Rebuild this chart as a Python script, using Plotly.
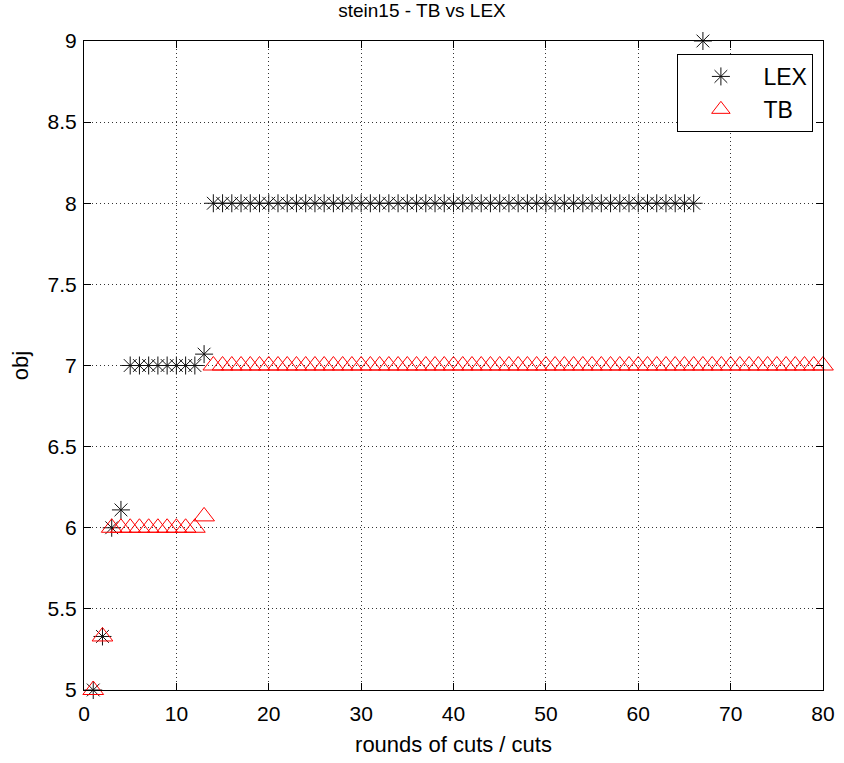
import plotly.graph_objects as go

# LEX cut rounds and objective values
lex_x = [1, 2, 3, 4] + list(range(5, 13)) + [13] + list(range(14, 67)) + [67]
lex_y = [5.0, 5.33, 6.0, 6.11] + [7.0] * 8 + [7.07] + [8.0] * 53 + [9.0]

# TB cut rounds and objective values
tb_x = [1, 2] + list(range(3, 13)) + [13] + list(range(14, 81))
tb_y = [5.0, 5.33] + [6.0] * 10 + [6.07] + [7.0] * 67

x_ticks = [0, 10, 20, 30, 40, 50, 60, 70, 80]
y_ticks = [5, 5.5, 6, 6.5, 7, 7.5, 8, 8.5, 9]
y_tick_text = ["5", "5.5", "6", "6.5", "7", "7.5", "8", "8.5", "9"]

FONT = "Liberation Sans, Arial, sans-serif"

fig = go.Figure()
fig.add_trace(go.Scatter(
    x=lex_x, y=lex_y, mode="markers", name="LEX", cliponaxis=False,
    marker=dict(symbol="asterisk-open", size=15, color="#111111",
                line=dict(color="#222222", width=1)),
))
fig.add_trace(go.Scatter(
    x=tb_x, y=tb_y, mode="markers", name="TB", cliponaxis=False,
    marker=dict(symbol="triangle-up-open", size=18, color="red",
                line=dict(color="red", width=1)),
))

axis_common = dict(
    showline=True, linecolor="black", linewidth=1, mirror="ticks",
    ticks="inside", ticklen=7, tickcolor="black", automargin=False,
    showgrid=True, gridcolor="#333333", griddash="1px,3px", gridwidth=1,
    zeroline=False, tickfont=dict(size=21, color="black", family=FONT),
)

fig.update_layout(
    width=844, height=763,
    margin=dict(l=84, r=21, t=41, b=73),
    paper_bgcolor="white", plot_bgcolor="white",
    font=dict(family=FONT, color="black"),
    title=dict(text="stein15 - TB vs LEX", x=0.5, xanchor="center",
               y=0.995, yanchor="top", font=dict(size=19, color="black", family=FONT)),
    xaxis=dict(range=[0, 80], tickvals=x_ticks, ticklabelstandoff=5,
               title=dict(text="rounds of cuts / cuts",
                          font=dict(size=22, family=FONT), standoff=12),
               **axis_common),
    yaxis=dict(range=[5, 9], tickvals=y_ticks, ticktext=y_tick_text,
               ticklabelstandoff=2,
               title=dict(text="obj", font=dict(size=22, family=FONT), standoff=12),
               **axis_common),
    legend=dict(x=0.987, y=0.98, xanchor="right", yanchor="top",
                bgcolor="white", bordercolor="black", borderwidth=1,
                font=dict(size=23, color="black", family=FONT),
                itemwidth=75),
    showlegend=True,
)

fig.write_html("out.html")
